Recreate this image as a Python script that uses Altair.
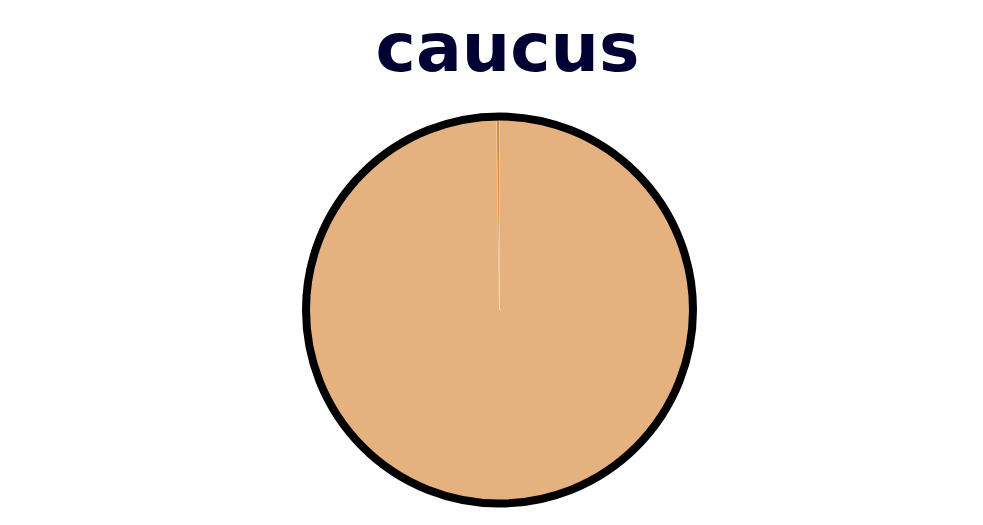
import altair as alt
import pandas as pd

title_text = "caucus"
categories = ["caucus", "other"]
values = [99.75, 0.25]
order_idx = [0, 1]
colors = ["#E4B17F", "#D98A38"]

df = pd.DataFrame({"category": categories, "value": values, "idx": order_idx})
ring_df = pd.DataFrame({"v": [1]})

pie = alt.Chart(df).mark_arc(radius=193.5, stroke="#FFF3E6", strokeWidth=0.3).encode(
    theta=alt.Theta("value:Q", stack=True),
    color=alt.Color("category:N", scale=alt.Scale(domain=categories, range=colors), legend=None),
    order=alt.Order("idx:Q"),
)

ring = alt.Chart(ring_df).mark_arc(radius=193.5, fillOpacity=0, stroke="black", strokeWidth=8).encode(
    theta=alt.Theta("v:Q")
)

chart = alt.layer(pie, ring).resolve_scale(theta="independent").properties(
    width=799,
    height=400,
    padding={"left": 92, "top": 8, "right": 0, "bottom": 0},
    autosize="pad",
    title=alt.TitleParams(
        title_text,
        font="DejaVu Sans",
        fontSize=68,
        fontWeight="bold",
        color="#000033",
        anchor="middle",
        baseline="alphabetic",
        offset=-38,
        dx=8,
    ),
).configure_view(stroke=None)

chart.save("out.html", embed_options={"renderer": "svg", "actions": False})
